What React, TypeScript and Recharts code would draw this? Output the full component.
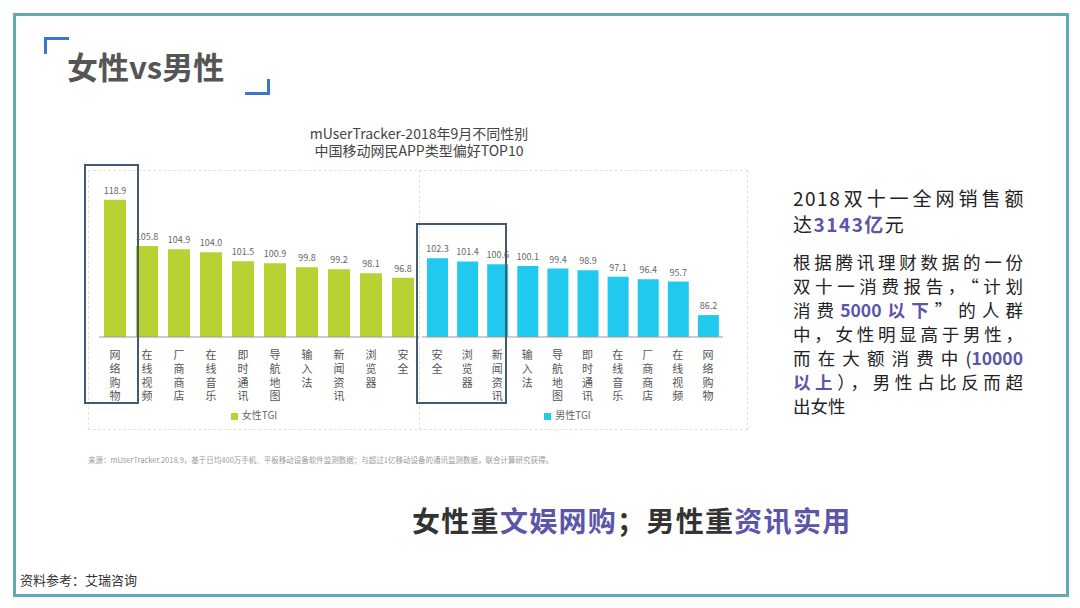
import React from 'react';
import { BarChart, Bar, XAxis, YAxis, LabelList, Legend } from 'recharts';

const femaleApps = ['网络购物', '在线视频', '厂商商店', '在线音乐', '即时通讯', '导航地图', '输入法', '新闻资讯', '浏览器', '安全'];
const femaleTgi = [118.9, 105.8, 104.9, 104.0, 101.5, 100.9, 99.8, 99.2, 98.1, 96.8];
const maleApps = ['安全', '浏览器', '新闻资讯', '输入法', '导航地图', '即时通讯', '在线音乐', '厂商商店', '在线视频', '网络购物'];
const maleTgi = [102.3, 101.4, 100.6, 100.1, 99.4, 98.9, 97.1, 96.4, 95.7, 86.2];

const femaleData = femaleApps.map((name, i) => ({ name, value: femaleTgi[i] }));
const maleData = maleApps.map((name, i) => ({ name, value: maleTgi[i] }));

const FONT = '"Noto Sans CJK SC", "Noto Sans", sans-serif';
const GREEN = '#b9d233';
const CYAN = '#22c9ef';
const ACCENT = '#5b56a8';

// category names are written top-to-bottom, one glyph per row
const VerticalTick = (props: any) => {
  const { x, y, payload } = props;
  const chars = String(payload.value).split('');
  return (
    <g>
      {chars.map((c, i) => (
        <text key={i} x={x} y={y + 14 + i * 13.8} textAnchor="middle" fontSize={11} fill="#555" fontFamily={FONT}>{c}</text>
      ))}
    </g>
  );
};

const Panel = ({ data, color, label, margin, barSize }: any) => (
  <BarChart width={331} height={260} data={data} margin={margin} barCategoryGap={0}>
    <XAxis dataKey="name" interval={0} tickLine={false} axisLine={{ stroke: '#9a9a9a' }} tick={<VerticalTick />} height={93} />
    <YAxis hide domain={[80, 124.5]} allowDataOverflow />
    <Legend
      verticalAlign="middle"
      align="center"
      iconType="square"
      iconSize={7}
      wrapperStyle={{ top: 237, fontSize: 10, fontFamily: FONT, color: '#666' }}
      formatter={(v: string) => <span style={{ color: '#666' }}>{v}</span>}
    />
    <Bar dataKey="value" name={label} fill={color} barSize={barSize} isAnimationActive={false}>
      <LabelList dataKey="value" position="top" offset={6} fontSize={9} fill="#666" formatter={(v: any) => Number(v).toFixed(1)} />
    </Bar>
  </BarChart>
);

export default function App() {
  return (
    <div style={{ position: 'fixed', left: 0, top: 0, width: 1080, height: 608, background: '#fff', fontFamily: FONT, overflow: 'hidden' }}>
      {/* slide frame */}
      <div style={{ position: 'absolute', left: 13, top: 13, width: 1050, height: 578, border: '3px solid #62a8b6' }} />

      {/* title with brackets */}
      <div style={{ position: 'absolute', left: 44, top: 37, width: 22, height: 14, borderTop: '3px solid #3b78c9', borderLeft: '3px solid #3b78c9' }} />
      <div style={{ position: 'absolute', left: 245, top: 79, width: 22, height: 13, borderBottom: '3px solid #3b78c9', borderRight: '3px solid #3b78c9' }} />
      <div style={{ position: 'absolute', left: 67, top: 45, fontSize: 31, fontWeight: 700, color: '#555', lineHeight: '42px' }}>女性vs男性</div>

      {/* chart title */}
      <div style={{ position: 'absolute', left: 219, top: 125, width: 400, textAlign: 'center', fontSize: 14, color: '#444', lineHeight: '17px' }}>
        <div>mUserTracker-2018年9月不同性别</div>
        <div>中国移动网民APP类型偏好TOP10</div>
      </div>

      {/* panels */}
      <div style={{ position: 'absolute', left: 88, top: 170, width: 660, height: 260, border: '1px dashed #dfe6c8', boxSizing: 'border-box' }} />
      <div style={{ position: 'absolute', left: 419, top: 170, width: 0, height: 260, borderLeft: '1px dashed #dfe6c8' }} />

      <div style={{ position: 'absolute', left: 88, top: 170 }}>
        <Panel data={femaleData} color={GREEN} label="女性TGI" margin={{ top: 10, right: 0, bottom: 0, left: 11 }} barSize={22} />
      </div>
      <div style={{ position: 'absolute', left: 419, top: 170 }}>
        <Panel data={maleData} color={CYAN} label="男性TGI" margin={{ top: 10, right: 27, bottom: 0, left: 3 }} barSize={21} />
      </div>

      {/* highlight boxes */}
      <div style={{ position: 'absolute', left: 84, top: 164, width: 55, height: 240, border: '2px solid #3f5c70', boxSizing: 'border-box' }} />
      <div style={{ position: 'absolute', left: 416, top: 223, width: 91, height: 181, border: '2px solid #3f5c70', boxSizing: 'border-box' }} />

      {/* source */}
      <div style={{ position: 'absolute', left: 88, top: 454, fontSize: 7.5, color: '#9a9a9a', whiteSpace: 'nowrap' }}>
        来源：mUserTracker.2018.9，基于日均400万手机、平板移动设备软件监测数据；与超过1亿移动设备的通讯监测数据，联合计算研究获得。
      </div>

      {/* right text */}
      <div style={{ position: 'absolute', left: 793, top: 185, width: 232, fontSize: 19, color: '#222', lineHeight: '26px', letterSpacing: 1.5 }}>
        <div style={{ textAlignLast: 'justify' }}>2018双十一全网销售额</div>
        <div>达<span style={{ color: ACCENT, fontWeight: 700 }}>3143亿</span>元</div>
      </div>
      <div style={{ position: 'absolute', left: 793, top: 250, width: 230, fontSize: 17.5, color: '#222', lineHeight: '24px' }}>
        <div style={{ textAlignLast: 'justify' }}>根据腾讯理财数据的一份</div>
        <div style={{ textAlignLast: 'justify' }}>双十一消费报告，“计划</div>
        <div style={{ textAlignLast: 'justify' }}>消费<span style={{ color: ACCENT, fontWeight: 700 }}>5000以下</span>”的人群</div>
        <div style={{ textAlignLast: 'justify' }}>中，女性明显高于男性，</div>
        <div style={{ textAlignLast: 'justify' }}>而在大额消费中(<span style={{ color: ACCENT, fontWeight: 700 }}>10000</span></div>
        <div style={{ textAlignLast: 'justify' }}><span style={{ color: ACCENT, fontWeight: 700 }}>以上</span>），男性占比反而超</div>
        <div>出女性</div>
      </div>

      {/* conclusion */}
      <div style={{ position: 'absolute', left: 412, top: 502, fontSize: 28, fontWeight: 700, color: '#333', whiteSpace: 'nowrap', lineHeight: '36px', letterSpacing: 1.3 }}>
        女性重<span style={{ color: ACCENT }}>文娱网购</span>；男性重<span style={{ color: ACCENT }}>资讯实用</span>
      </div>

      <div style={{ position: 'absolute', left: 20, top: 570, fontSize: 13, color: '#333' }}>资料参考：艾瑞咨询</div>
    </div>
  );
}
